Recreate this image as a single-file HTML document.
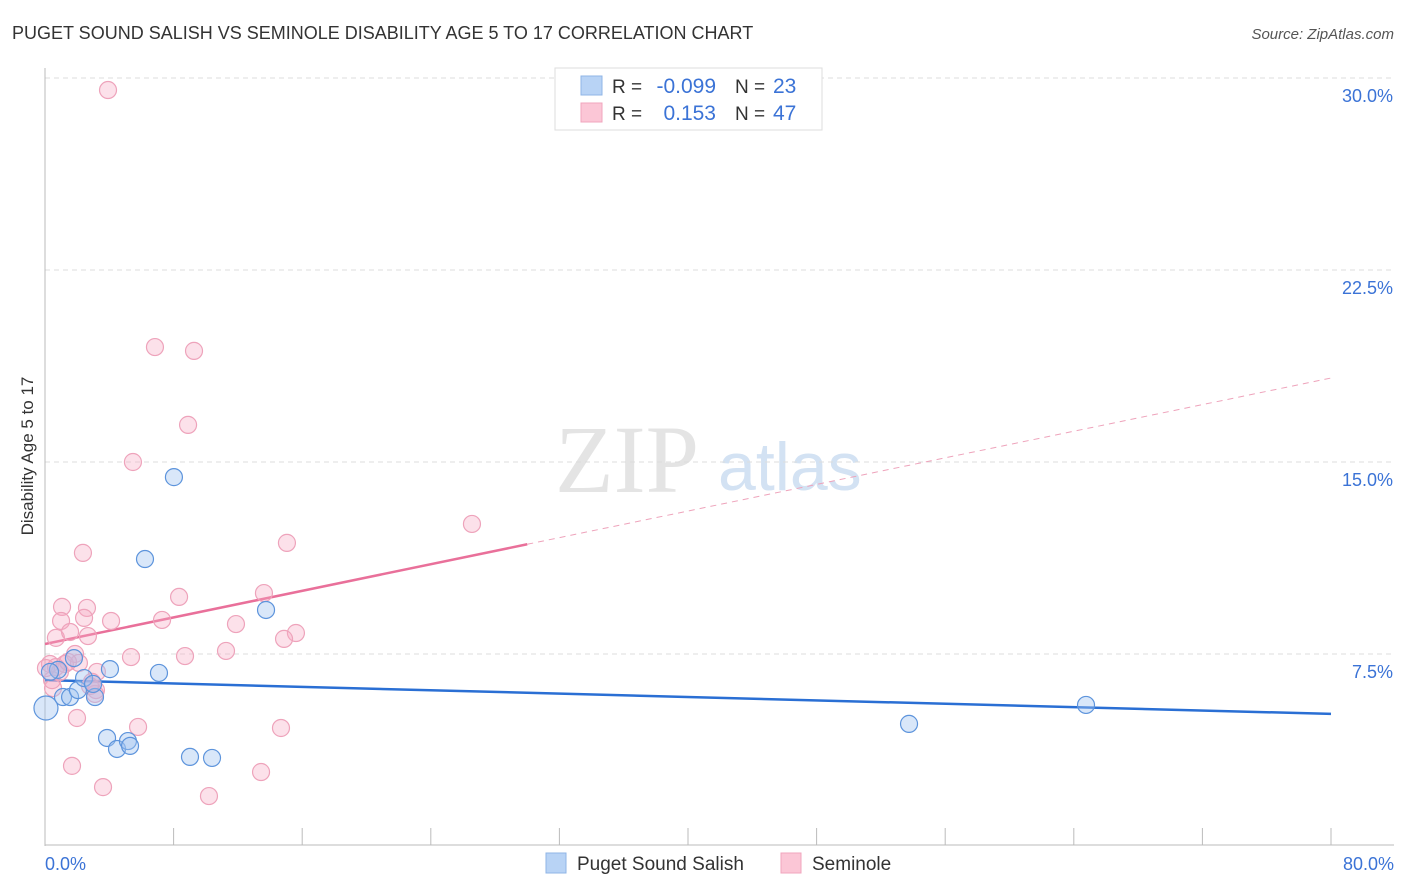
<!DOCTYPE html>
<html><head><meta charset="utf-8"><style>
body{margin:0;background:#fff;font-family:"Liberation Sans",sans-serif;}
svg{display:block}
</style></head><body>
<svg id="chart" width="1406" height="892" xmlns="http://www.w3.org/2000/svg" font-family="Liberation Sans, sans-serif">
<text x="12" y="39" font-size="18" fill="#333">PUGET SOUND SALISH VS SEMINOLE DISABILITY AGE 5 TO 17 CORRELATION CHART</text>
<text x="1394" y="39" font-size="15" fill="#555" font-style="italic" text-anchor="end">Source: ZipAtlas.com</text>
<text transform="translate(33,456) rotate(-90)" font-size="17" fill="#333" text-anchor="middle">Disability Age 5 to 17</text>
<g>
<text x="555" y="492" font-family="Liberation Serif, serif" font-size="96" fill="#e4e4e4">ZIP</text>
<text x="718" y="490" font-size="68" fill="#d3e2f3">atlas</text>
</g>
<g id="grid"></g>
<g id="axes"></g>
<g id="trends"></g>
<g id="points"></g>
<g>
<rect x="555" y="68" width="267" height="62" fill="#fff" stroke="#ddd"/>
<rect x="581" y="76" width="21" height="19" fill="#b8d3f5" stroke="#8fb5e6"/>
<rect x="581" y="103" width="21" height="19" fill="#fbc6d6" stroke="#f0a5bd"/>
<text x="612" y="93" font-size="19" fill="#333">R =</text>
<text x="716" y="93" font-size="21" fill="#3b73d6" text-anchor="end">-0.099</text>
<text x="735" y="93" font-size="19" fill="#333">N =</text>
<text x="773" y="93" font-size="21" fill="#3b73d6">23</text>
<text x="612" y="120" font-size="19" fill="#333">R =</text>
<text x="716" y="120" font-size="21" fill="#3b73d6" text-anchor="end">0.153</text>
<text x="735" y="120" font-size="19" fill="#333">N =</text>
<text x="773" y="120" font-size="21" fill="#3b73d6">47</text>
</g>
<g>
<rect x="546" y="853" width="20" height="20" fill="#b8d3f5" stroke="#8fb5e6"/>
<text x="577" y="870" font-size="19" fill="#333">Puget Sound Salish</text>
<rect x="781" y="853" width="20" height="20" fill="#fbc6d6" stroke="#f0a5bd"/>
<text x="812" y="870" font-size="19" fill="#333">Seminole</text>
</g>
</svg>
<script>
const yTicks=[7.5,15,22.5,30];
const xTickLabels=["0.0%","80.0%"];
const blueX=[0.06,0.81,1.12,1.56,2.05,2.43,1.80,3.11,2.99,4.04,3.86,4.48,5.16,5.29,6.22,7.09,8.02,9.02,10.39,13.75,53.75,64.76,0.31];
const blueY=[5.39,6.88,5.82,5.82,6.09,6.56,7.34,5.82,6.33,6.91,4.22,3.79,4.10,3.91,11.21,6.76,14.41,3.48,3.44,9.22,4.77,5.51,6.80];
const pinkX=[3.92,6.84,9.27,8.90,5.47,26.56,15.05,2.36,13.62,8.34,1.06,2.61,1.00,2.43,4.11,7.28,11.88,15.61,14.87,0.68,1.56,2.67,11.26,8.71,5.35,1.87,0.31,0.68,1.24,2.11,3.23,2.92,3.17,0.50,1.99,5.79,14.68,1.68,3.61,10.20,13.44,0.93,0.44,3.11,1.43,0.06,2.80];
const pinkY=[29.53,19.49,19.34,16.45,15.0,12.58,11.84,11.45,9.88,9.73,9.34,9.30,8.79,8.91,8.79,8.83,8.67,8.32,8.09,8.13,8.36,8.20,7.62,7.42,7.38,7.50,7.11,6.99,7.11,7.15,6.80,6.41,6.09,6.17,5.0,4.65,4.61,3.13,2.30,1.95,2.89,6.80,6.48,5.94,7.19,6.95,6.25];
const blueTrend=[6.48,5.16];
const pinkTrend=[7.89,18.28];
const pinkSolidEnd=30.0;
const NS="http://www.w3.org/2000/svg";
const X=v=>45+v/80*1286, Y=v=>846-v/30*768;
function mk(t,a,p){const e=document.createElementNS(NS,t);for(const k in a)e.setAttribute(k,a[k]);p.appendChild(e);return e;}
const grid=document.getElementById('grid'),axes=document.getElementById('axes');
yTicks.forEach(t=>{
 const l=mk('line',{x1:45,x2:1394,y1:Y(t),y2:Y(t),stroke:'#ddd','stroke-dasharray':'5,4'},grid);
 
 
 const tx=mk('text',{x:1393,y:Y(t)+24,'font-size':18,fill:'#3b73d6','text-anchor':'end'},grid);
 tx.textContent=t.toFixed(1)+'%';
 
 
});
mk('line',{x1:45,x2:45,y1:68,y2:846,stroke:'#bbb'},axes);
mk('line',{x1:45,x2:1394,y1:845,y2:845,stroke:'#bbb'},axes);
for(let v=8;v<=80;v+=8){const l=mk('line',{x1:X(v),x2:X(v),y1:828,y2:845,stroke:'#bbb'},axes);}
const t0=mk('text',{x:45,y:870,'font-size':18,fill:'#3b73d6'},axes);t0.textContent=xTickLabels[0];


const t1=mk('text',{x:1394,y:870,'font-size':18,fill:'#3b73d6','text-anchor':'end'},axes);t1.textContent=xTickLabels[1];


const pts=document.getElementById('points');
pinkX.forEach((x,i)=>{const c=mk('circle',{cx:X(x),cy:Y(pinkY[i]),r:8.5,fill:'rgba(247,170,195,0.35)',stroke:'#eea3bb','stroke-width':1.2},pts);
 
 });
blueX.forEach((x,i)=>{const c=mk('circle',{cx:X(x),cy:Y(blueY[i]),r:i==0?12:8.5,fill:'rgba(160,196,240,0.4)',stroke:'#5d94dc','stroke-width':1.2},pts);
 
 });
const tr=document.getElementById('trends');
const pv=x=>pinkTrend[0]+(pinkTrend[1]-pinkTrend[0])*x/80;
let l=mk('line',{x1:X(0),y1:Y(pv(0)),x2:X(pinkSolidEnd),y2:Y(pv(pinkSolidEnd)),stroke:'#e9709a','stroke-width':2.5},tr);


l=mk('line',{x1:X(pinkSolidEnd),y1:Y(pv(pinkSolidEnd)),x2:X(80),y2:Y(pv(80)),stroke:'#eea3bb','stroke-width':1,'stroke-dasharray':'6,5'},tr);


l=mk('line',{x1:X(0),y1:Y(blueTrend[0]),x2:X(80),y2:Y(blueTrend[1]),stroke:'#2a6fd4','stroke-width':2.5},tr);


</script>
</body></html>
